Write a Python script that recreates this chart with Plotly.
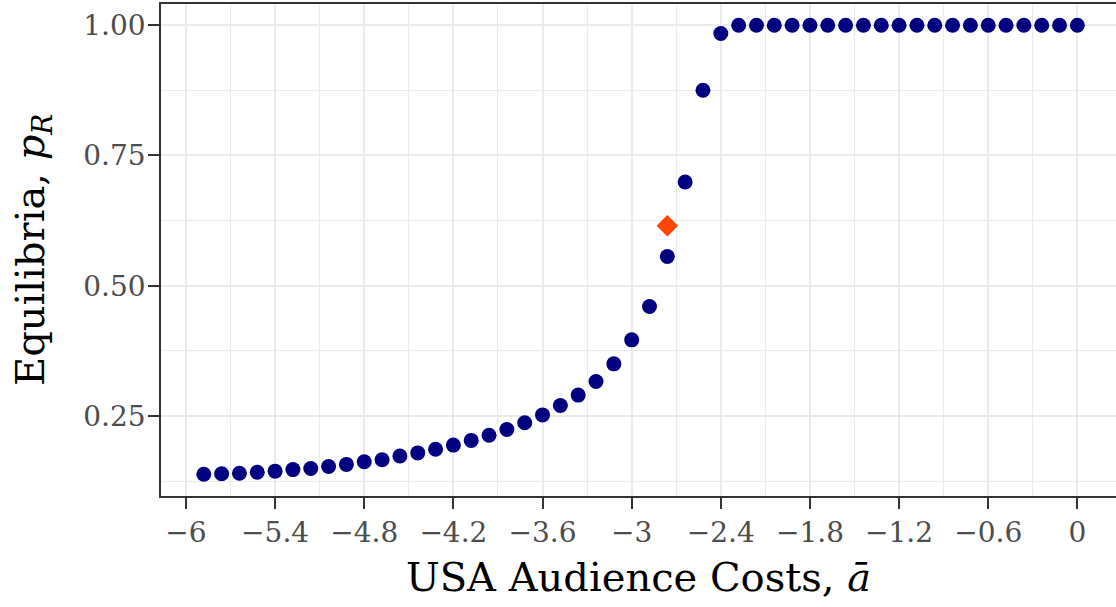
import plotly.graph_objects as go

# Audience-cost grid and equilibrium probability p_R at each value
audience_costs = [
    -5.88, -5.76, -5.64, -5.52, -5.40, -5.28, -5.16, -5.04, -4.92, -4.80,
    -4.68, -4.56, -4.44, -4.32, -4.20, -4.08, -3.96, -3.84, -3.72, -3.60,
    -3.48, -3.36, -3.24, -3.12, -3.00, -2.88, -2.76, -2.64, -2.52, -2.40,
    -2.28, -2.16, -2.04, -1.92, -1.80, -1.68, -1.56, -1.44, -1.32, -1.20,
    -1.08, -0.96, -0.84, -0.72, -0.60, -0.48, -0.36, -0.24, -0.12, 0.00,
]
equilibria = [
    0.138, 0.139, 0.140, 0.142, 0.144, 0.147, 0.149, 0.153, 0.157, 0.162,
    0.166, 0.173, 0.179, 0.186, 0.194, 0.203, 0.213, 0.224, 0.237, 0.252,
    0.270, 0.290, 0.316, 0.350, 0.396, 0.460, 0.556, 0.699, 0.875, 0.984,
    1.0, 1.0, 1.0, 1.0, 1.0, 1.0, 1.0, 1.0, 1.0, 1.0,
    1.0, 1.0, 1.0, 1.0, 1.0, 1.0, 1.0, 1.0, 1.0, 1.0,
]

# Observed (highlighted) equilibrium
observed_cost = [-2.76]
observed_eq = [0.615]

x_ticks = [-6.0, -5.4, -4.8, -4.2, -3.6, -3.0, -2.4, -1.8, -1.2, -0.6, 0.0]
x_ticktext = ["\u22126", "\u22125.4", "\u22124.8", "\u22124.2", "\u22123.6", "\u22123",
              "\u22122.4", "\u22121.8", "\u22121.2", "\u22120.6", "0"]
y_ticks = [0.25, 0.50, 0.75, 1.00]
y_ticktext = ["0.25", "0.50", "0.75", "1.00"]

x_minor = [(a + b) / 2 for a, b in zip(x_ticks[:-1], x_ticks[1:])]
y_minor = [0.125] + [(a + b) / 2 for a, b in zip(y_ticks[:-1], y_ticks[1:])]

FONT = "DejaVu Serif"
GRID = "#EBEBEB"
FRAME = "#333333"
TICK_COLOR = "#4D4D4D"

fig = go.Figure()
fig.add_trace(go.Scatter(
    x=audience_costs, y=equilibria, mode="markers",
    marker=dict(symbol="circle", size=15, color="#000080", line=dict(width=0)),
    showlegend=False, hoverinfo="x+y",
))
fig.add_trace(go.Scatter(
    x=observed_cost, y=observed_eq, mode="markers",
    marker=dict(symbol="diamond", size=16.5, color="#FF4500", line=dict(width=0)),
    showlegend=False, hoverinfo="x+y",
))

fig.update_layout(
    width=1116, height=607,
    margin=dict(l=161, r=0, t=4, b=111, pad=0),
    paper_bgcolor="white", plot_bgcolor="white",
    font=dict(family=FONT, color=TICK_COLOR, size=28),
    xaxis=dict(
        range=[-6.168, 0.26],
        tickmode="array", tickvals=x_ticks, ticktext=x_ticktext,
        tickfont=dict(family=FONT, size=28, color=TICK_COLOR),
        ticks="outside", ticklen=11, tickwidth=1.6, tickcolor=FRAME,
        ticklabelstandoff=0,
        showgrid=True, gridcolor=GRID, gridwidth=1.5,
        minor=dict(tickmode="array", tickvals=x_minor, showgrid=True,
                   gridcolor=GRID, gridwidth=0.8, ticks=""),
        showline=True, linecolor=FRAME, linewidth=1.6, mirror=True,
        zeroline=False,
        title=dict(text="USA Audience Costs, <i>ā</i>",
                   font=dict(family=FONT, size=40, color="black"), standoff=15),
    ),
    yaxis=dict(
        range=[0.0963, 1.0407],
        tickmode="array", tickvals=y_ticks, ticktext=y_ticktext,
        tickfont=dict(family=FONT, size=28, color=TICK_COLOR),
        ticks="outside", ticklen=11, tickwidth=1.6, tickcolor=FRAME,
        ticklabelstandoff=-3,
        showgrid=True, gridcolor=GRID, gridwidth=1.5,
        minor=dict(tickmode="array", tickvals=y_minor, showgrid=True,
                   gridcolor=GRID, gridwidth=0.8, ticks=""),
        showline=True, linecolor=FRAME, linewidth=1.6, mirror=False,
        zeroline=False,
    ),
)

# Vertical axis title, placed in the left margin
fig.add_annotation(
    text="Equilibria, <i>p</i><sub><i>R</i></sub>",
    xref="paper", yref="paper", x=-0.134, y=0.5,
    xanchor="center", yanchor="middle", textangle=-90, showarrow=False,
    font=dict(family=FONT, size=40, color="black"),
)

fig.write_html("out.html")
